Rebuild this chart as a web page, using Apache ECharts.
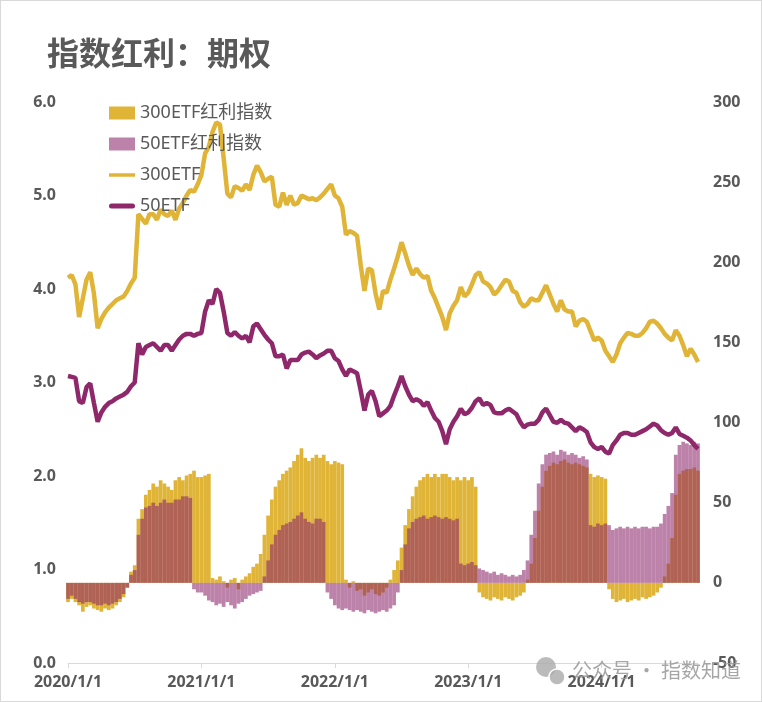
<!DOCTYPE html>
<html><head><meta charset="utf-8">
<script src="https://cdn.jsdelivr.net/npm/echarts@6/dist/echarts.min.js"></script>
<style>
html,body{margin:0;padding:0;background:#fff;}
#wrap{width:760px;height:700px;border:1px solid #d9d9d9;position:relative;}
#chart{width:762px;height:702px;position:absolute;left:-1px;top:-1px;}
</style></head><body>
<div id="wrap"><div id="chart"></div></div>
<script>
// categories: 1st, 11th, 21st of each month, 2020/1 .. 2024/9
const dates = [];
for (let y = 2020; y <= 2024; y++) {
  for (let m = 1; m <= 12; m++) {
    if (y === 2024 && m > 9) break;
    for (const d of [1, 11, 21]) dates.push(y + '/' + m + '/' + d);
  }
}
const yearLabels = ['2020/1/1', '2021/1/1', '2022/1/1', '2023/1/1', '2024/1/1'];

// 300ETF price (left axis)
const etf300 = [
  4.12,4.15,4.05, 3.70,3.90,4.10, 4.18,3.95,3.58, 3.68,3.75,3.80, 3.84,3.88,3.90, 3.92,3.98,4.06, 4.12,4.80,4.75, 4.70,4.80,4.80, 4.74,4.85,4.80, 4.78,4.84,4.74, 4.86,4.92,5.00, 5.06,5.04,5.12,
  5.22,5.45,5.52, 5.68,5.78,5.76, 5.40,5.02,4.98, 5.10,5.08,5.05, 5.12,5.06,5.22, 5.32,5.25,5.15, 5.18,5.20,4.90, 4.88,5.03,4.90, 5.00,4.90,4.92, 5.00,4.98,4.96, 4.97,4.95,4.98, 5.02,5.07,5.12,
  5.00,4.97,4.88, 4.58,4.62,4.60, 4.57,4.25,3.98, 4.22,4.20,3.95, 3.78,3.98,3.96, 4.10,4.22,4.35, 4.50,4.38,4.25, 4.15,4.22,4.16, 4.12,4.14,3.98, 3.90,3.80,3.70, 3.56,3.74,3.82, 3.88,4.02,3.92,
  3.96,4.05,4.15, 4.18,4.08,4.06, 4.02,3.94,3.98, 4.04,4.10,4.08, 3.98,3.96,3.86, 3.81,3.84,3.90, 3.88,3.88,3.96, 4.04,3.94,3.84, 3.76,3.88,3.78, 3.76,3.76,3.60, 3.66,3.68,3.65, 3.55,3.45,3.48,
  3.45,3.34,3.28, 3.22,3.30,3.42, 3.48,3.53,3.52, 3.50,3.50,3.53, 3.58,3.65,3.66, 3.63,3.58,3.52, 3.48,3.45,3.56, 3.50,3.40,3.28, 3.36,3.30,3.22
];
// 50ETF price (left axis)
const etf50 = [
  3.07,3.06,3.05, 2.80,2.78,2.95, 2.99,2.78,2.58, 2.68,2.74,2.78, 2.80,2.83,2.85, 2.87,2.90,2.96, 3.00,3.42,3.30, 3.38,3.40,3.42, 3.38,3.34,3.40, 3.40,3.34,3.40, 3.46,3.50,3.52, 3.52,3.50,3.52,
  3.53,3.76,3.88, 3.84,4.00,3.96, 3.76,3.53,3.50, 3.54,3.50,3.47, 3.50,3.43,3.60, 3.63,3.57,3.51, 3.46,3.42,3.28, 3.28,3.30,3.15, 3.24,3.24,3.24, 3.30,3.32,3.33, 3.30,3.26,3.29, 3.31,3.34,3.34,
  3.26,3.23,3.14, 3.07,3.14,3.12, 3.10,2.91,2.70, 2.87,2.91,2.80, 2.64,2.67,2.70, 2.75,2.86,2.96, 3.07,2.96,2.87, 2.80,2.82,2.80, 2.75,2.79,2.70, 2.62,2.58,2.48, 2.34,2.50,2.58, 2.64,2.72,2.66,
  2.68,2.73,2.80, 2.83,2.76,2.78, 2.76,2.68,2.67, 2.67,2.70,2.72, 2.69,2.66,2.58, 2.52,2.55,2.56, 2.56,2.60,2.68, 2.72,2.65,2.58, 2.57,2.60,2.57, 2.56,2.52,2.48, 2.52,2.50,2.47, 2.36,2.31,2.29,
  2.31,2.26,2.24, 2.33,2.38,2.44, 2.46,2.46,2.44, 2.44,2.46,2.48, 2.50,2.53,2.56, 2.54,2.49,2.46, 2.44,2.46,2.52, 2.45,2.43,2.41, 2.38,2.33,2.29
];
// 300ETF红利指数 (right axis)
const div300 = [
  -12,-10,-12, -14,-18,-15, -14,-16,-17, -18,-16,-17, -16,-14,-12, -9,-3,7, 11,40,46, 55,58,62, 60,64,62, 60,58,64, 66,64,67, 68,70,66,
  66,67,68, 3,2,4, 1,-3,2, 3,-4,2, 4,6,10, 12,18,30, 42,52,60, 64,68,70, 72,76,80, 84,78,76, 78,80,78, 80,76,74,
  76,75,74, 2,-3,1, -5,-4,-8, -6,-4,-7, -8,-6,-3, 2,8,14, 22,36,46, 54,60,64, 66,68,66, 68,66,68, 68,66,64, 66,64,66,
  64,66,60, -6,-9,-10, -11,-9,-10, -11,-9,-10, -11,-9,-8, -6,2,12, 28,45,60, 70,73,75, 74,76,77, 75,74,75, 74,73,72, 68,66,67,
  66,65,-4, -10,-12,-11, -10,-12,-11, -10,-11,-9, -10,-9,-8, -6,-3,4, 12,28,55, 68,70,71, 71,72,70
];
// 50ETF红利指数 (right axis)
const div50 = [
  -10,-8,-10, -12,-13,-12, -12,-13,-14, -14,-13,-14, -13,-12,-10, -7,-3,5, 8,30,40, 47,48,50, 48,50,52, 50,50,52, 52,54,54, 53,-4,-6,
  -6,-8,-11, -12,-14,-13, -15,-12,-14, -16,-13,-12, -10,-8,-7, -6,-5,4, 14,24,30, 33,36,37, 38,40,42, 44,40,38, 37,40,40, 38,-6,-10,
  -14,-16,-17, -16,-17,-18, -17,-18,-19, -17,-18,-19, -18,-17,-18, -16,-14,-6, 8,24,34, 38,40,41, 42,40,41, 42,41,40, 41,40,39, 40,12,11,
  12,13,11, 9,8,7, 6,7,5, 6,5,4, 5,4,5, 8,14,30, 45,62,74, 80,81,82, 80,83,82, 80,81,80, 78,79,77, 36,35,37,
  36,37,36, 33,34,35, 34,35,34, 35,34,35, 35,34,35, 35,37,43, 48,56,80, 86,88,87, 86,88,87
];

const GOLD = '#DFB437';
const PURPLE = '#8E286B';
const TXT = '#595959';
const isYear = (i, v) => yearLabels.indexOf(v) >= 0;

const chart = echarts.init(document.getElementById('chart'), null, {renderer: 'canvas'});
chart.setOption({
  animation: false,
  textStyle: {fontFamily: "'Noto Sans', 'Noto Sans CJK SC', sans-serif"},
  title: {
    text: '指数红利：期权', left: 42, top: 32,
    textStyle: {fontSize: 32, fontWeight: 'bold', color: TXT, fontFamily: "'Noto Sans CJK SC', sans-serif"}
  },
  legend: {
    orient: 'vertical', left: 104, top: 99, itemWidth: 26, itemHeight: 13, itemGap: 13,
    symbolKeepAspect: true,
    textStyle: {fontSize: 18, color: TXT, fontFamily: "'Noto Sans', 'Noto Sans CJK SC', sans-serif"},
    selectedMode: false,
    data: [
      {name: '300ETF红利指数', icon: 'rect'},
      {name: '50ETF红利指数', icon: 'rect'},
      {name: '300ETF', icon: 'path://M0,0 H26 V3.5 H0 Z', itemStyle: {color: GOLD}},
      {name: '50ETF', icon: 'path://M2.5,0 H23.5 A2.5,2.5 0 0 1 23.5,5 H2.5 A2.5,2.5 0 0 1 2.5,0 Z', itemStyle: {color: PURPLE}}
    ]
  },
  grid: {left: 68, right: 64, top: 102, bottom: 39},
  xAxis: {
    type: 'category', data: dates, boundaryGap: false,
    axisLine: {onZero: false, lineStyle: {color: '#d9d9d9', width: 1}},
    axisTick: {show: true, interval: isYear, length: 5, lineStyle: {color: '#d9d9d9'}},
    axisLabel: {interval: isYear, fontSize: 16, fontWeight: 'bold', color: TXT, margin: 11},
    splitLine: {show: false}
  },
  yAxis: [
    {
      type: 'value', min: 0, max: 6, interval: 1, position: 'left',
      splitLine: {show: false}, axisLine: {show: false}, axisTick: {show: false},
      axisLabel: {formatter: v => v.toFixed(1), fontSize: 16, fontWeight: 'bold', color: TXT, margin: 12}
    },
    {
      type: 'value', min: -50, max: 300, interval: 50, position: 'right',
      splitLine: {show: false}, axisLine: {show: false}, axisTick: {show: false},
      axisLabel: {fontSize: 16, fontWeight: 'bold', color: TXT, margin: 15}
    }
  ],
  series: [
    {name: '300ETF红利指数', type: 'bar', yAxisIndex: 1, data: div300, barWidth: '100%', barGap: '-100%',
     itemStyle: {color: GOLD}, silent: true},
    {name: '50ETF红利指数', type: 'bar', yAxisIndex: 1, data: div50, barWidth: '100%', barGap: '-100%',
     itemStyle: {color: PURPLE, opacity: 0.58}, silent: true},
    {name: '300ETF', type: 'line', yAxisIndex: 0, data: etf300, symbol: 'none',
     lineStyle: {width: 4.5, color: GOLD}, itemStyle: {color: GOLD}, silent: true},
    {name: '50ETF', type: 'line', yAxisIndex: 0, data: etf50, symbol: 'none',
     lineStyle: {width: 4.5, color: PURPLE}, itemStyle: {color: PURPLE}, silent: true}
  ],
  graphic: [
    {type: 'circle', z: 100, shape: {cx: 546, cy: 667, r: 10}, style: {fill: 'rgba(170,170,170,0.8)'}},
    {type: 'circle', z: 101, shape: {cx: 557, cy: 677, r: 8}, style: {fill: 'rgba(170,170,170,0.8)', stroke: '#fff', lineWidth: 1.5}},
    {type: 'text', z: 102, left: 572, top: 660,
     style: {text: '公众号 · 指数知道', fontSize: 20, fill: 'rgba(150,150,150,0.85)', fontFamily: "'Noto Sans CJK SC', sans-serif"}}
  ]
});
</script>
</body></html>
